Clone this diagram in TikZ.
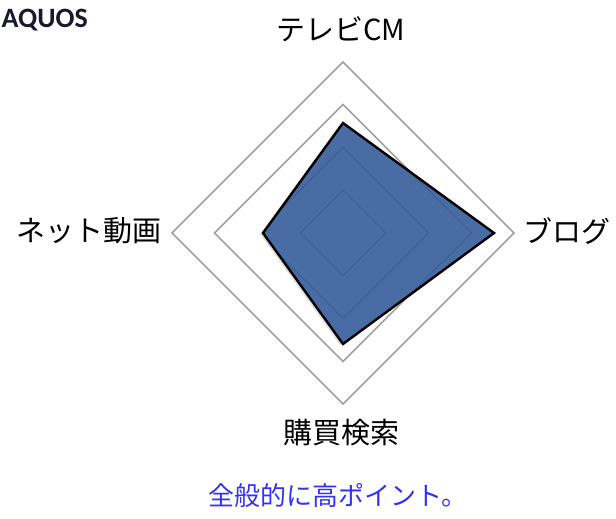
\documentclass[tikz,border=0pt]{standalone}
\usepackage{fontspec}
\usetikzlibrary{calc}
\newfontfamily\jpfont{Noto Sans CJK JP}
\newfontfamily\carlitofont{Carlito}
\definecolor{gridgray}{RGB}{160,160,160}
\definecolor{datafill}{RGB}{72,108,163}
\definecolor{datagrid}{RGB}{55,85,135}
\definecolor{capblue}{RGB}{51,51,238}
\definecolor{titlecol}{RGB}{25,25,45}
\begin{document}
\begin{tikzpicture}[x=1pt,y=-1pt,
  gridline/.style={draw=gridgray,line width=1.6pt},
  innergrid/.style={draw=datagrid,line width=0.8pt,opacity=0.6},
  dataline/.style={draw=black,line width=2.4pt,line join=miter},
  axislabel/.style={font=\jpfont\fontsize{29}{32}\selectfont,text=black,inner sep=0pt}]
\useasboundingbox (0,0) rectangle (616,519);
\coordinate (c) at (343,233);
% grid diamonds
\foreach \r in {171,128.5} {
  \draw[gridline] ($(c)+(0,-\r)$) -- ($(c)+(\r,0)$) -- ($(c)+(0,\r)$) -- ($(c)+(-\r,0)$) -- cycle;
}
% data polygon
\coordinate (dt) at (343,123);
\coordinate (dr) at (494,233);
\coordinate (db) at (343,344);
\coordinate (dl) at (263,233);
\fill[gray!50,opacity=0.5] ($(dt)+(-3,1)$) -- ($(dr)+(-3,1)$) -- ($(db)+(-3,1)$) -- ($(dl)+(-3,1)$) -- cycle;
\fill[datafill] (dt) -- (dr) -- (db) -- (dl) -- cycle;
\begin{scope}
\clip (dt) -- (dr) -- (db) -- (dl) -- cycle;
\foreach \r in {42.7,85.5,128.5} {
  \draw[innergrid] ($(c)+(0,-\r)$) -- ($(c)+(\r,0)$) -- ($(c)+(0,\r)$) -- ($(c)+(-\r,0)$) -- cycle;
}
\end{scope}
\draw[dataline] (dt) -- (dr) -- (db) -- (dl) -- cycle;
% labels
\node[axislabel] (tv) at (341,29) {テレビCM};
\node[axislabel] (net) at (89,231) {ネット動画};
\node[axislabel] (blog) at (567,231) {ブログ};
\node[axislabel] (buy) at (341,433) {購買検索};
\node[font=\jpfont\fontsize{26}{30}\selectfont,text=capblue,inner sep=0pt] (cap) at (338,496) {全般的に高ポイント。};
\node[font=\carlitofont\bfseries\fontsize{28}{30}\selectfont,text=titlecol,anchor=base east,inner sep=0pt] (title) at (88,28) {AQUOS};
\end{tikzpicture}
\end{document}
